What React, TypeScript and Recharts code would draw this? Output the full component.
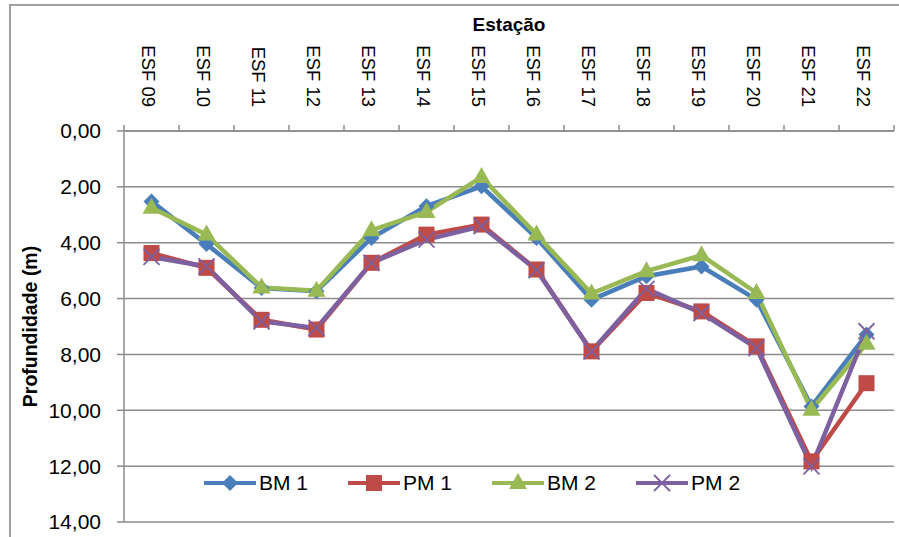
import React from 'react';
import { LineChart, Line, XAxis, YAxis, CartesianGrid, Legend } from 'recharts';

const stations = ['ESF 09', 'ESF 10', 'ESF 11', 'ESF 12', 'ESF 13', 'ESF 14', 'ESF 15', 'ESF 16', 'ESF 17', 'ESF 18', 'ESF 19', 'ESF 20', 'ESF 21', 'ESF 22'];
const bm1 = [2.52, 4.05, 5.62, 5.74, 3.83, 2.69, 1.98, 3.83, 6.04, 5.2, 4.85, 6.04, 9.86, 7.29];
const pm1 = [4.37, 4.9, 6.76, 7.11, 4.72, 3.71, 3.35, 4.96, 7.89, 5.8, 6.46, 7.71, 11.83, 9.03];
const bm2 = [2.75, 3.71, 5.6, 5.72, 3.55, 2.9, 1.65, 3.71, 5.82, 5.02, 4.45, 5.8, 9.98, 7.62];
const pm2 = [4.51, 4.85, 6.82, 7.05, 4.72, 3.89, 3.41, 4.98, 7.89, 5.65, 6.52, 7.77, 12.01, 7.17];
const depthTicks = [0, 2, 4, 6, 8, 10, 12, 14];

const data = stations.map((station, i) => ({
  station,
  bm1: bm1[i],
  pm1: pm1[i],
  bm2: bm2[i],
  pm2: pm2[i],
}));

type Kind = 'diamond' | 'square' | 'triangle' | 'x';

const series: { key: string; name: string; color: string; kind: Kind }[] = [
  { key: 'bm1', name: 'BM 1', color: '#4a7ebb', kind: 'diamond' },
  { key: 'pm1', name: 'PM 1', color: '#be4b48', kind: 'square' },
  { key: 'bm2', name: 'BM 2', color: '#98b954', kind: 'triangle' },
  { key: 'pm2', name: 'PM 2', color: '#7d60a0', kind: 'x' },
];

const W = 899;
const H = 537;
const MARGIN = { top: 31, right: 5, bottom: 15, left: 64 };
const Y_AXIS_W = 60;
const X_AXIS_H = 100;
const PLOT_W = W - MARGIN.left - MARGIN.right - Y_AXIS_W;
const GRID = '#8c8c8c';
const FONT = '"Liberation Sans", Arial, sans-serif';

// marker shapes, roughly Excel 2007 sized
function Marker({ kind, cx, cy, color }: { kind: Kind; cx: number; cy: number; color: string }) {
  if (cx == null || cy == null) return null;
  switch (kind) {
    case 'diamond':
      return <polygon points={`${cx},${cy - 8} ${cx + 8},${cy} ${cx},${cy + 8} ${cx - 8},${cy}`} fill={color} />;
    case 'square':
      return <rect x={cx - 8} y={cy - 8} width={16} height={16} fill={color} />;
    case 'triangle':
      return <polygon points={`${cx},${cy - 10} ${cx + 9},${cy + 6} ${cx - 9},${cy + 6}`} fill={color} />;
    default:
      return (
        <g stroke={color} strokeWidth={1.8}>
          <line x1={cx - 8} y1={cy - 8} x2={cx + 8} y2={cy + 8} />
          <line x1={cx - 8} y1={cy + 8} x2={cx + 8} y2={cy - 8} />
        </g>
      );
  }
}

function StationTick(props: any) {
  const { x, payload, index } = props;
  const band = PLOT_W / stations.length;
  const axisY = MARGIN.top + X_AXIS_H;
  return (
    <g>
      <line x1={x - band / 2} y1={axisY - 6} x2={x - band / 2} y2={axisY} stroke={GRID} strokeWidth={1.5} />
      {index === stations.length - 1 && (
        <line x1={x + band / 2} y1={axisY - 6} x2={x + band / 2} y2={axisY} stroke={GRID} strokeWidth={1.5} />
      )}
      <g transform={`translate(${x - 10}, ${axisY - 24}) rotate(90)`}>
        <text x={0} y={0} textAnchor="end" fontSize={18.5} fill="#000" fontFamily={FONT}>
          {payload.value}
        </text>
      </g>
    </g>
  );
}

const renderLegend = () => (
  <div style={{ display: 'flex', alignItems: 'center', fontFamily: FONT }}>
    {series.map((s) => (
      <div key={s.key} style={{ display: 'flex', alignItems: 'center', marginRight: 40 }}>
        <svg width={52} height={24}>
          <line x1={0} y1={12} x2={52} y2={12} stroke={s.color} strokeWidth={4} />
          <Marker kind={s.kind} cx={26} cy={12} color={s.color} />
        </svg>
        <span style={{ fontSize: 21, marginLeft: 3, color: '#000', lineHeight: '24px' }}>{s.name}</span>
      </div>
    ))}
  </div>
);

const fmt = (v: number) => v.toFixed(2).replace('.', ',');

export default function App() {
  return (
    <div style={{ position: 'absolute', left: 0, top: 0, width: W, height: H, background: '#fff', overflow: 'hidden' }}>
      <div
        style={{
          position: 'absolute',
          left: 9,
          top: 4,
          width: W,
          height: H,
          borderLeft: '2px solid #a0a0a0',
          borderTop: '2px solid #a0a0a0',
        }}
      />
      <LineChart width={W} height={H} data={data} margin={MARGIN} style={{ position: 'absolute', left: 0, top: 0 }}>
        <CartesianGrid vertical={false} stroke={GRID} strokeWidth={1.5} />
        <XAxis
          dataKey="station"
          orientation="top"
          scale="band"
          height={X_AXIS_H}
          interval={0}
          axisLine={{ stroke: GRID, strokeWidth: 1.5 }}
          tickLine={false}
          tick={<StationTick />}
          label={{
            content: (p: any) => (
              <text
                x={p.viewBox.x + p.viewBox.width / 2}
                y={31}
                textAnchor="middle"
                fontSize={19}
                fontWeight="bold"
                fontFamily={FONT}
                fill="#000"
              >
                Estação
              </text>
            ),
          }}
        />
        <YAxis
          reversed
          domain={[0, 14]}
          ticks={depthTicks}
          width={Y_AXIS_W}
          tickSize={7}
          tickMargin={16}
          tickFormatter={fmt}
          axisLine={{ stroke: GRID, strokeWidth: 1.5 }}
          tickLine={{ stroke: GRID, strokeWidth: 1.5 }}
          tick={{ fontSize: 21, fill: '#000', fontFamily: FONT }}
          label={{
            content: (p: any) => {
              const cy = p.viewBox.y + p.viewBox.height / 2;
              return (
                <text
                  x={30}
                  y={cy}
                  transform={`rotate(-90, 30, ${cy})`}
                  textAnchor="middle"
                  dominantBaseline="central"
                  fontSize={19.5}
                  fontWeight="bold"
                  fontFamily={FONT}
                  fill="#000"
                >
                  Profundidade (m)
                </text>
              );
            },
          }}
        />
        {series.map((s) => (
          <Line
            key={s.key}
            dataKey={s.key}
            name={s.name}
            stroke={s.color}
            strokeWidth={4.5}
            isAnimationActive={false}
            activeDot={false}
            dot={(p: any) => <Marker key={`${s.key}-${p.index}`} kind={s.kind} cx={p.cx} cy={p.cy} color={s.color} />}
          />
        ))}
        <Legend
          layout="horizontal"
          verticalAlign="middle"
          align="center"
          content={renderLegend}
          wrapperStyle={{ left: 204, top: 471, width: 600 }}
        />
      </LineChart>
    </div>
  );
}
